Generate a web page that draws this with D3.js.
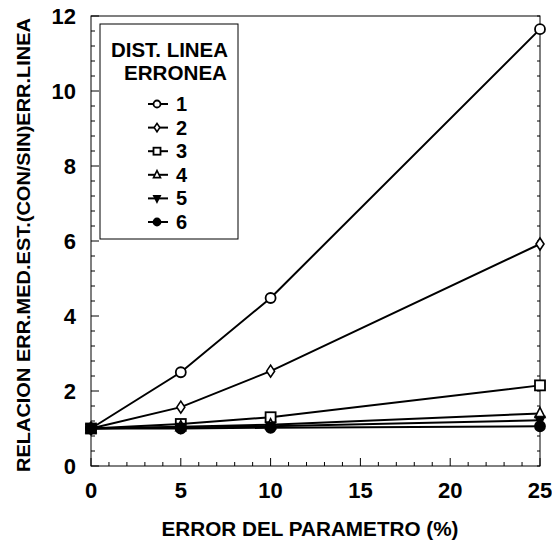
<!DOCTYPE html>
<html>
<head>
<meta charset="utf-8">
<script src="https://cdn.jsdelivr.net/npm/d3@7"></script>
<style>
  body { margin: 0; background: #fff; }
  text { font-family: "Liberation Sans", Arial, sans-serif; fill: #000; font-weight: bold; }
</style>
</head>
<body>
<div id="chart"></div>
<script>
// data
const errorPct = [0, 5, 10, 25]
const series1 = [1, 2.5, 4.48, 11.65]
const series2 = [1, 1.57, 2.53, 5.92]
const series3 = [1, 1.12, 1.3, 2.15]
const series4 = [1, 1.05, 1.1, 1.4]
const series5 = [1, 1.03, 1.06, 1.22]
const series6 = [1, 1.0, 1.02, 1.06]
const seriesNames = ['1', '2', '3', '4', '5', '6']
const xTicks = [0, 5, 10, 15, 20, 25]
const yTicks = [0, 2, 4, 6, 8, 10, 12]

const allSeries = [series1, series2, series3, series4, series5, series6]
const symbols = ['circleOpen', 'diamond', 'squareOpen', 'triangle', 'triangleDown', 'circle']

const W = 552, H = 544
const margin = { top: 16, right: 12, bottom: 78, left: 91 }
const width = W - margin.left - margin.right
const height = H - margin.top - margin.bottom

const svg = d3.select('#chart')
    .append('svg')
    .attr('width', W)
    .attr('height', H)

const g = svg.append('g')
    .attr('transform', `translate(${margin.left}, ${margin.top})`)

const x = d3.scaleLinear().domain([0, 25]).range([0, width])
const y = d3.scaleLinear().domain([0, 12]).range([height, 0])

// frame
g.append('rect')
    .attr('width', width)
    .attr('height', height)
    .attr('fill', 'none')
    .attr('stroke', '#000')
    .attr('stroke-width', 1)

// ticks, pointing inwards
const xMinor = d3.range(0, 26, 1)
const yMinor = d3.range(0, 12.01, 0.4)

g.selectAll('.xminor')
    .data(xMinor)
    .enter().append('line')
    .attr('x1', d => x(d)).attr('x2', d => x(d))
    .attr('y1', height).attr('y2', d => height - (d % 5 === 0 ? 8 : 4))
    .attr('stroke', '#000')

g.selectAll('.yminor')
    .data(yMinor)
    .enter().append('line')
    .attr('y1', d => y(d)).attr('y2', d => y(d))
    .attr('x1', 0).attr('x2', d => (Math.abs(d / 2 - Math.round(d / 2)) < 1e-6 ? 8 : 4))
    .attr('stroke', '#000')

g.selectAll('.yminorR')
    .data(yMinor)
    .enter().append('line')
    .attr('y1', d => y(d)).attr('y2', d => y(d))
    .attr('x1', width).attr('x2', width - 3)
    .attr('stroke', '#000')

// tick labels
g.selectAll('.xlab')
    .data(xTicks)
    .enter().append('text')
    .attr('x', d => x(d))
    .attr('y', height + 32)
    .attr('text-anchor', 'middle')
    .style('font-size', '22px')
    .text(d => d)

g.selectAll('.ylab')
    .data(yTicks)
    .enter().append('text')
    .attr('x', -15)
    .attr('y', d => y(d) + 8)
    .attr('text-anchor', 'end')
    .style('font-size', '22px')
    .text(d => d)

// axis titles
svg.append('text')
    .attr('x', 310)
    .attr('y', 536)
    .attr('text-anchor', 'middle')
    .style('font-size', '21px')
    .attr('textLength', 297)
    .attr('lengthAdjust', 'spacingAndGlyphs')
    .text('ERROR DEL PARAMETRO (%)')

svg.append('text')
    .attr('transform', `translate(30, 245) rotate(-90)`)
    .attr('text-anchor', 'middle')
    .style('font-size', '18.5px')
    .attr('textLength', 454)
    .attr('lengthAdjust', 'spacingAndGlyphs')
    .text('RELACION ERR.MED.EST.(CON/SIN)ERR.LINEA')

// lines
const line = d3.line()
    .x((d, i) => x(errorPct[i]))
    .y(d => y(d))

g.selectAll('.series')
    .data(allSeries)
    .enter().append('path')
    .attr('d', d => line(d))
    .attr('fill', 'none')
    .attr('stroke', '#000')
    .attr('stroke-width', 2)

function drawSymbol(sel, kind, cx, cy, s) {
    if (kind === 'circleOpen' || kind === 'circle') {
        sel.append('circle')
            .attr('cx', cx).attr('cy', cy).attr('r', s)
            .attr('fill', kind === 'circle' ? '#000' : '#fff')
            .attr('stroke', '#000').attr('stroke-width', 1.8)
    } else if (kind === 'squareOpen') {
        sel.append('rect')
            .attr('x', cx - s).attr('y', cy - s)
            .attr('width', 2 * s).attr('height', 2 * s)
            .attr('fill', '#fff')
            .attr('stroke', '#000').attr('stroke-width', 1.8)
    } else if (kind === 'diamond') {
        sel.append('path')
            .attr('d', `M${cx},${cy - s * 1.2}L${cx + s * 0.8},${cy}L${cx},${cy + s * 1.2}L${cx - s * 0.8},${cy}Z`)
            .attr('fill', '#fff')
            .attr('stroke', '#000').attr('stroke-width', 1.6)
    } else if (kind === 'triangle') {
        sel.append('path')
            .attr('d', `M${cx},${cy - s * 1.2}L${cx + s},${cy + s * 0.8}L${cx - s},${cy + s * 0.8}Z`)
            .attr('fill', '#fff')
            .attr('stroke', '#000').attr('stroke-width', 1.6)
    } else if (kind === 'triangleDown') {
        sel.append('path')
            .attr('d', `M${cx},${cy + s * 1.2}L${cx + s},${cy - s * 0.8}L${cx - s},${cy - s * 0.8}Z`)
            .attr('fill', '#000')
            .attr('stroke', '#000').attr('stroke-width', 1.2)
    }
}

// markers
allSeries.forEach((ser, k) => {
    const mg = g.append('g')
    ser.forEach((v, i) => {
        drawSymbol(mg, symbols[k], x(errorPct[i]), y(v), 5)
    })
})

// legend
const lg = svg.append('g')
lg.append('rect')
    .attr('x', 100).attr('y', 24)
    .attr('width', 138).attr('height', 215)
    .attr('fill', '#fff')
    .attr('stroke', '#000')
    .attr('stroke-width', 1)

lg.append('text')
    .attr('x', 111).attr('y', 57)
    .style('font-size', '20px')
    .attr('textLength', 117)
    .attr('lengthAdjust', 'spacingAndGlyphs')
    .text('DIST. LINEA')
lg.append('text')
    .attr('x', 124).attr('y', 80)
    .style('font-size', '20px')
    .attr('textLength', 103)
    .attr('lengthAdjust', 'spacingAndGlyphs')
    .text('ERRONEA')

seriesNames.forEach((name, k) => {
    const cy = 104 + k * 23.6
    lg.append('line')
        .attr('x1', 148).attr('x2', 168)
        .attr('y1', cy).attr('y2', cy)
        .attr('stroke', '#000').attr('stroke-width', 2)
    drawSymbol(lg, symbols[k], 157, cy, 3.5)
    lg.append('text')
        .attr('x', 176).attr('y', cy + 7)
        .style('font-size', '20px')
        .text(name)
})
</script>
</body>
</html>
